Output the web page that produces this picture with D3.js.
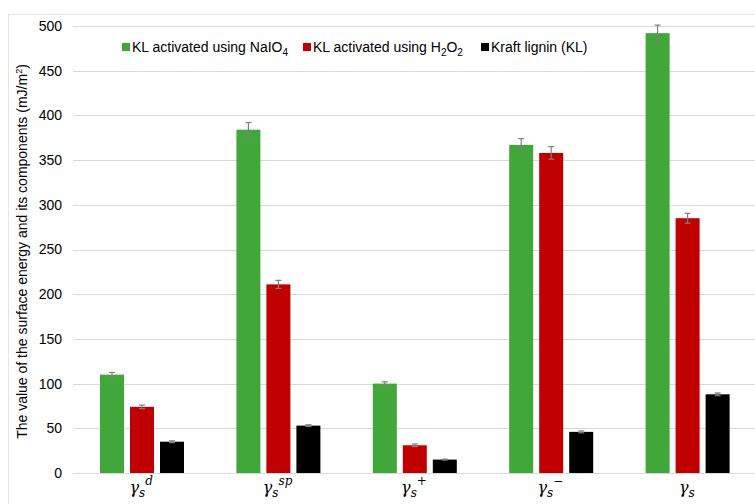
<!DOCTYPE html>
<html>
<head>
<meta charset="utf-8">
<script src="https://cdn.jsdelivr.net/npm/d3@7"></script>
<style>
  html, body { margin: 0; padding: 0; background: #fff; }
  svg { display: block; font-family: Arial, "Liberation Sans", sans-serif; }
</style>
</head>
<body>
<svg id="chart" width="755" height="504"></svg>
<script>
// Surface energy components (mJ/m2) for three lignin samples
const categories = ["d", "sp", "+", "\u2212", ""];
const seriesNames = ["KL activated using NaIO", "KL activated using H", "Kraft lignin (KL)"];
const naio4Values = [110, 384, 100, 367, 492];
const h2o2Values = [74, 211, 31, 358, 285];
const klValues = [35, 53, 15, 46, 88];
const naio4Errors = [2.5, 8, 2, 7, 9];
const h2o2Errors = [2, 4.5, 1.5, 7, 5.5];
const klErrors = [1, 1, 0.5, 1, 1.5];
const yTicks = [0, 50, 100, 150, 200, 250, 300, 350, 400, 450, 500];
const colors = ["#41a73a", "#c00000", "#000000"];

const series = [
  { key: "naio4", values: naio4Values, errors: naio4Errors, color: colors[0] },
  { key: "h2o2", values: h2o2Values, errors: h2o2Errors, color: colors[1] },
  { key: "kl", values: klValues, errors: klErrors, color: colors[2] }
];

const svg = d3.select("#chart");
const W = 755, H = 504;
const plot = { left: 73, right: 755, top: 26, bottom: 473 };

// frame of the chart area
svg.append("rect")
  .attr("x", 8.5).attr("y", 14.5)
  .attr("width", W).attr("height", H)
  .attr("fill", "none").attr("stroke", "#e6e6e6");

const x = d3.scaleBand().domain(d3.range(categories.length))
  .range([plot.left, plot.right]).padding(0);
const xInner = d3.scaleBand().domain(series.map(s => s.key))
  .range([27, 111]).paddingInner(0.2);
const y = d3.scaleLinear().domain([0, 500]).range([plot.bottom, plot.top]);

// gridlines
svg.append("g").selectAll("line").data(yTicks).join("line")
  .attr("x1", plot.left).attr("x2", plot.right)
  .attr("y1", d => Math.round(y(d)) + 0.5).attr("y2", d => Math.round(y(d)) + 0.5)
  .attr("stroke", "#d9d9d9").attr("stroke-width", 1);

// y axis labels
const yAxis = d3.axisLeft(y).tickValues(yTicks).tickSize(0).tickPadding(0);
const gy = svg.append("g").attr("transform", `translate(${plot.left - 11},0)`).call(yAxis);
gy.select(".domain").remove();
gy.selectAll("text").attr("font-size", 14).attr("fill", "#000")
  .attr("font-family", "Arial, 'Liberation Sans', sans-serif");

// bars
const groups = svg.append("g").selectAll("g").data(series).join("g");
groups.selectAll("rect").data(s => s.values.map((v, i) => ({ v, i, s }))).join("rect")
  .attr("x", d => x(d.i) + xInner(d.s.key))
  .attr("width", xInner.bandwidth())
  .attr("y", d => y(d.v))
  .attr("height", d => y(0) - y(d.v))
  .attr("fill", d => d.s.color);

// error bars
const err = svg.append("g").attr("stroke", "#7f7f7f").attr("stroke-width", 1.2);
series.forEach(s => {
  s.values.forEach((v, i) => {
    const cx = x(i) + xInner(s.key) + xInner.bandwidth() / 2;
    const y1 = y(v + s.errors[i]), y2 = y(v - s.errors[i]);
    err.append("line").attr("x1", cx).attr("x2", cx).attr("y1", y1).attr("y2", y2);
    err.append("line").attr("x1", cx - 3).attr("x2", cx + 3).attr("y1", y1).attr("y2", y1);
    err.append("line").attr("x1", cx - 3).attr("x2", cx + 3).attr("y1", y2).attr("y2", y2);
  });
});

// x axis category labels: gamma_s with superscripts
const xl = svg.append("g").attr("font-family", "'DejaVu Serif', 'Liberation Serif', serif")
  .attr("font-style", "italic").attr("fill", "#000");
categories.forEach((c, i) => {
  const cx = x(i) + x.bandwidth() / 2;
  const t = xl.append("text").attr("x", cx).attr("y", 493).attr("text-anchor", "middle")
    .attr("font-size", 16);
  t.append("tspan").text("\u03b3");
  t.append("tspan").attr("font-size", 12).attr("dy", 4).text("s");
  if (c) t.append("tspan").attr("font-size", 12).attr("dy", -12).text(c);
});

// y axis title
svg.append("text")
  .attr("transform", `translate(27,${(plot.top + plot.bottom) / 2 + 2}) rotate(-90)`)
  .attr("text-anchor", "middle").attr("font-size", 14).attr("fill", "#000")
  .call(t => {
    t.append("tspan").text("The value of the surface energy and its components (mJ/m");
    t.append("tspan").attr("font-size", 9).attr("dy", -5).text("2");
    t.append("tspan").attr("dy", 5).text(")");
  });

// legend
const legendItems = [
  { x: 122, color: colors[0], parts: [["KL activated using NaIO", 0], ["4", 1]] },
  { x: 303, color: colors[1], parts: [["KL activated using H", 0], ["2", 1], ["O", 0], ["2", 1]] },
  { x: 481, color: colors[2], parts: [["Kraft lignin (KL)", 0]] }
];
const lg = svg.append("g");
legendItems.forEach(it => {
  lg.append("rect").attr("x", it.x).attr("y", 43).attr("width", 8).attr("height", 8).attr("fill", it.color);
  const t = lg.append("text").attr("x", it.x + 10).attr("y", 52).attr("font-size", 14).attr("fill", "#000");
  let sub = 0;
  it.parts.forEach(([s, isSub]) => {
    const dy = isSub && !sub ? 4 : (!isSub && sub ? -4 : 0);
    t.append("tspan").attr("font-size", isSub ? 10 : 14).attr("dy", dy).text(s);
    sub = isSub;
  });
});
</script>
</body>
</html>
